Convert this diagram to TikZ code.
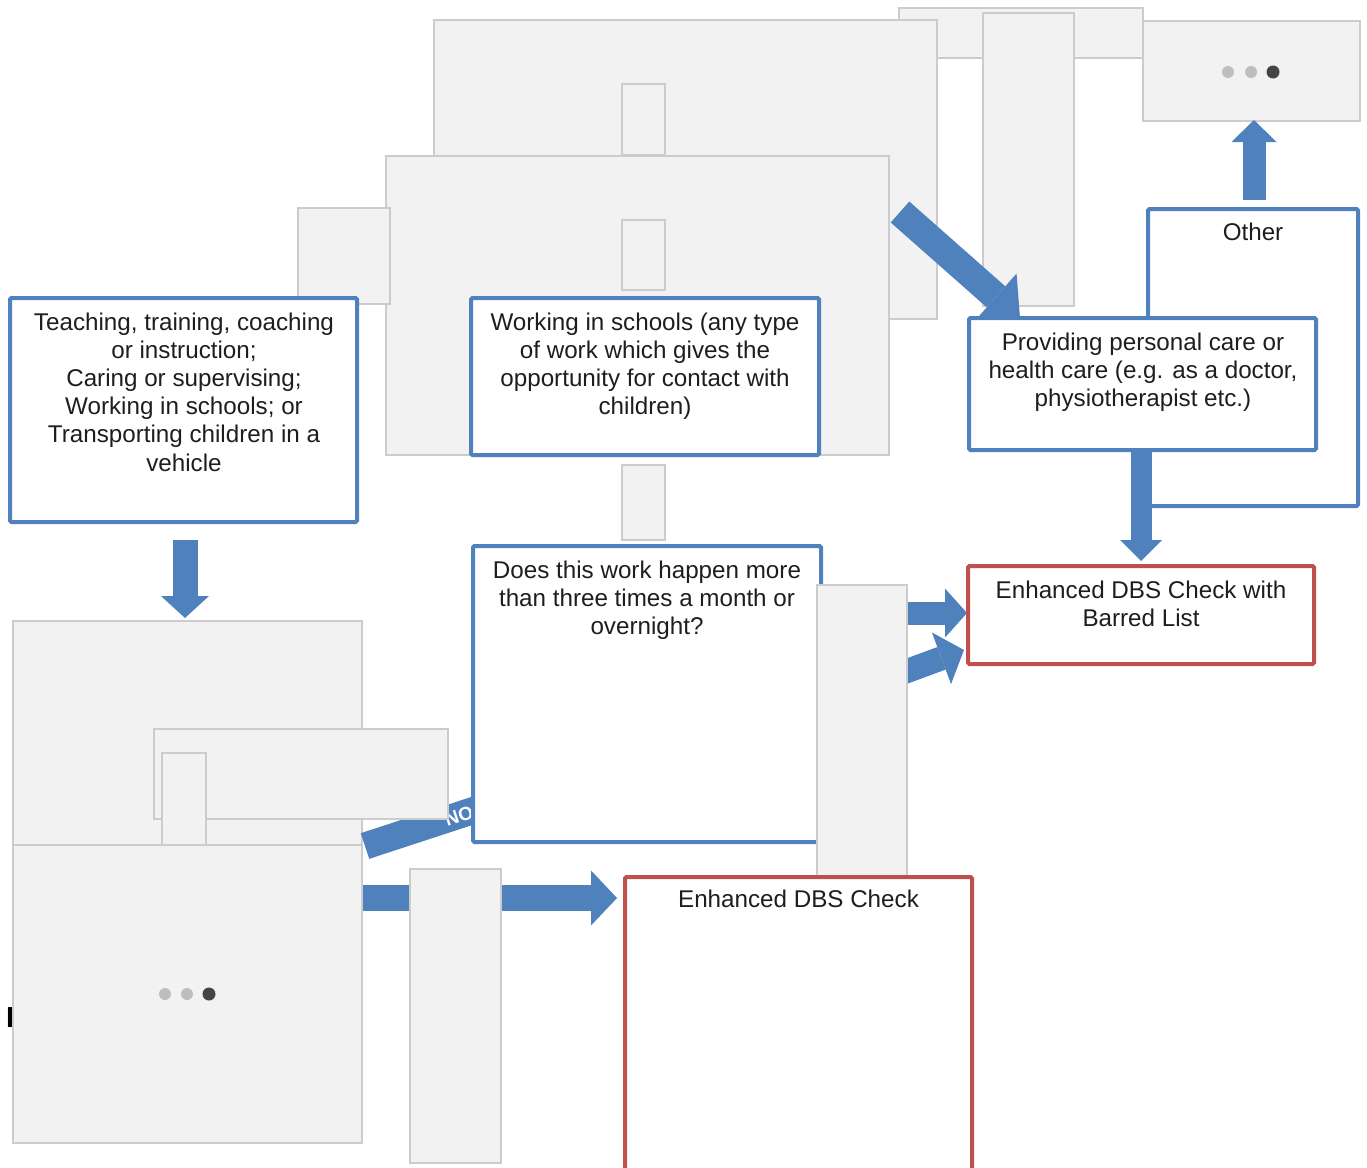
\documentclass[tikz,border=0pt]{standalone}
\usepackage{fontspec}
\setmainfont{Liberation Sans}
\usetikzlibrary{arrows.meta}
\definecolor{gfill}{RGB}{242,242,242}
\definecolor{gline}{RGB}{204,204,204}
\definecolor{bblue}{RGB}{79,129,189}
\definecolor{rred}{RGB}{192,80,77}
\definecolor{txt}{RGB}{30,30,30}
\definecolor{dotlc}{RGB}{190,190,190}
\definecolor{dotdc}{RGB}{68,68,68}
\newcommand\mkbox[6]{\node[#2, anchor=north west, inner sep=0pt, outer sep=0pt, minimum width={#5pt-#3pt}, minimum height={#6pt-#4pt}] (#1) at (#3,#4) {};}
\tikzset{
  grey/.style={fill=gfill, draw=gline, line width=1.8pt},
  bluebox/.style={fill=white, draw=bblue, line width=4pt, rounded corners=1.5pt},
  redbox/.style={fill=white, draw=rred, line width=4pt, rounded corners=1.5pt},
  lbl/.style={font=\fontsize{24.2pt}{28.2pt}\selectfont, text=txt, align=center, anchor=base, inner sep=0pt},
  barrow/.style n args={3}{draw=bblue, line width=#1, -{Triangle[length=#3, width=#2, line width=0pt]}},
  bshaft/.style={draw=bblue, line width=#1},
  dotl/.style={circle, fill=dotlc, minimum size=12pt, inner sep=0pt},
  dotd/.style={circle, fill=dotdc, minimum size=13pt, inner sep=0pt}
}
\begin{document}
\begin{tikzpicture}[x=1pt,y=-1pt]
\clip (0,0) rectangle (1367,1167);
\fill[white] (0,0) rectangle (1367,1167);
% ---- top cluster of placeholders
\mkbox{strip}{grey}{899}{8}{1143}{58}
\mkbox{g1}{grey}{434}{20}{937}{319}
\mkbox{tall}{grey}{983}{13}{1074}{306}
\mkbox{tr}{grey}{1143}{21}{1360}{121}
\node[dotl] (tr1) at (1228,72) {};
\node[dotl] (tr2) at (1251,72) {};
\node[dotd] (tr3) at (1273,72) {};
\mkbox{g2}{grey}{622}{84}{665}{155}
\mkbox{g3}{grey}{386}{156}{889}{455}
\mkbox{g4}{grey}{298}{208}{390}{304}
\mkbox{g5}{grey}{622}{220}{665}{290}
% ---- right column
\mkbox{b5}{bluebox}{1148}{209}{1358}{506}
\node[lbl] (t5) at (1253,240) {Other};
\draw[barrow={23pt}{45pt}{22pt}] ([shift={(1,-9)}]b5.north) -- ([shift={(2.5,-1)}]tr.south);
\coordinate (diagtip) at (1020,318);
\draw[barrow={28pt}{62pt}{32pt}] ([shift={(11,56)}]g3.north east) -- (diagtip);
\mkbox{b4}{bluebox}{969}{318}{1316}{450}
\node[lbl] (t4) at (1143,406.4) {Providing personal care or\\health care (e.g. as a doctor,\\physiotherapist etc.)};
\mkbox{r2}{redbox}{968}{566}{1314}{664}
\node[lbl] (tr2t) at (1141,626.2) {Enhanced DBS Check with\\Barred List};
\draw[barrow={21pt}{42pt}{21pt}] ([shift={(-1.5,2)}]b4.south) -- ([shift={(0,-5)}]r2.north);
% ---- upper left / middle
\mkbox{b2}{bluebox}{471}{298}{819}{455}
\node[lbl] (t2) at (645,414.6) {Working in schools (any type\\of work which gives the\\opportunity for contact with\\children)};
\mkbox{b1}{bluebox}{10}{298}{357}{522}
\node[lbl] (t1) at (184,471) {Teaching, training, coaching\\or instruction;\\Caring or supervising;\\Working in schools; or\\Transporting children in a\\vehicle};
\mkbox{g6}{grey}{622}{465}{665}{540}
% ---- lower left cluster
\mkbox{g8}{grey}{13}{621}{362}{845}
\draw[barrow={25pt}{48pt}{22pt}] ([shift={(1.5,18)}]b1.south) -- ([shift={(-2.5,-3)}]g8.north);
\coordinate (noend) at (490,805);
\draw[bshaft=27pt] ([shift={(3,1)}]g8.south east) -- (noend);
\node[font=\bfseries\fontsize{19pt}{19pt}\selectfont, text=white, rotate=18, inner sep=0pt] (no) at (459,816) {NO};
\mkbox{g9}{grey}{154}{729}{448}{819}
\mkbox{g10}{grey}{162}{753}{206}{845}
\node[anchor=base west, font=\bfseries\fontsize{29pt}{29pt}\selectfont, inner sep=0pt, text=black] (cut) at (6,1027) {E};
\mkbox{g11}{grey}{13}{845}{362}{1143}
\node[dotl] (g11a) at (165,994) {};
\node[dotl] (g11b) at (187,994) {};
\node[dotd] (g11c) at (209,994) {};
\mkbox{b3}{bluebox}{473}{546}{821}{842}
\node[lbl] (t3) at (647,634.4) {Does this work happen more\\than three times a month or\\overnight?};
% arrows into the barred-list box
\coordinate (ra) at (880,613);
\coordinate (rb) at (880,681);
\draw[barrow={23pt}{49pt}{22pt}] (ra) -- ([shift={(-1,-2)}]r2.west);
\draw[barrow={24pt}{55pt}{24pt}] (rb) -- ([shift={(-4,84)}]r2.north west);
\mkbox{g7}{grey}{817}{585}{907}{880}
\mkbox{r1}{redbox}{625}{877}{972}{1200}
\node[lbl] (t6) at (798.5,907) {Enhanced DBS Check};
\draw[barrow={26pt}{55pt}{26pt}] ([shift={(1,53)}]g11.north east) -- ([shift={(-8,21)}]r1.north west);
\mkbox{g12}{grey}{410}{869}{501}{1163}
\end{tikzpicture}
\end{document}
